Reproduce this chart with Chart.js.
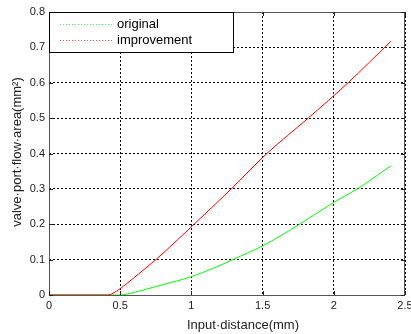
<!DOCTYPE html>
<html lang="en">
<head>
    <meta charset="UTF-8">
    <title>Valve port flow area</title>
    <script src="https://cdn.jsdelivr.net/npm/chart.js"></script>
    <style>
        body { margin: 0; padding: 0; background: #fff; }
        canvas { display: block; }
    </style>
</head>
<body>
    <canvas id="graphCanvas" width="411" height="334"></canvas>

    <script>
        // Values
        const seriesNames = ['original', 'improvement'];
        const xOriginal = [0, 0.5, 0.55, 0.65, 0.75, 0.9, 1, 1.15, 1.29, 1.5, 1.76, 2, 2.165, 2.4];
        const yOriginal = [0, 0, 0.003, 0.013, 0.024, 0.04, 0.052, 0.075, 0.1, 0.139, 0.2, 0.262, 0.3, 0.365];
        const xImproved = [0, 0.41, 0.45, 0.5, 0.6, 0.75, 0.9, 1, 1.28, 1.53, 1.82, 2.1, 2.4];
        const yImproved = [0, 0, 0.005, 0.018, 0.05, 0.1, 0.155, 0.193, 0.3, 0.4, 0.5, 0.6, 0.717];
        const xTicks = [0, 0.5, 1, 1.5, 2, 2.5];
        const yTicks = [0, 0.1, 0.2, 0.3, 0.4, 0.5, 0.6, 0.7, 0.8];
        const xTitle = 'Input\u00B7distance(mm)';
        const yTitle = 'valve\u00B7port\u00B7flow\u00B7area(mm\u00B2)';

        const toPoints = (xs, ys) => xs.map((x, i) => ({ x: x, y: ys[i] }));
        const fontFamily = '"Liberation Sans", Arial, sans-serif';

        // frame, inner ticks, axis titles and the boxed legend
        const decor = {
            id: 'decor',
            afterDatasetsDraw(chart) {
                const ctx = chart.ctx;
                const a = chart.chartArea;
                const sx = chart.scales.x, sy = chart.scales.y;
                ctx.save();
                ctx.strokeStyle = '#555';
                ctx.lineWidth = 1;
                ctx.strokeRect(a.left + 0.5, a.top + 0.5, a.right - a.left - 1, a.bottom - a.top);
                ctx.strokeStyle = '#222';
                ctx.beginPath();
                xTicks.forEach(v => {
                    const px = Math.round(sx.getPixelForValue(v)) + 0.5;
                    ctx.moveTo(px, a.bottom); ctx.lineTo(px, a.bottom - 4);
                    ctx.moveTo(px, a.top); ctx.lineTo(px, a.top + 4);
                });
                yTicks.forEach(v => {
                    const py = Math.round(sy.getPixelForValue(v)) + 0.5;
                    ctx.moveTo(a.left, py); ctx.lineTo(a.left + 4, py);
                    ctx.moveTo(a.right, py); ctx.lineTo(a.right - 4, py);
                });
                ctx.stroke();

                // axis titles
                ctx.fillStyle = '#222';
                ctx.font = '13px ' + fontFamily;
                ctx.textAlign = 'center';
                ctx.textBaseline = 'middle';
                ctx.fillText(xTitle, 243, 325);
                ctx.save();
                ctx.translate(17, 152);
                ctx.rotate(-Math.PI / 2);
                ctx.fillText(yTitle, 0, 0);
                ctx.restore();

                // legend box
                const lx = a.left, ly = a.top, lw = 184, lh = 40;
                ctx.fillStyle = '#fff';
                ctx.fillRect(lx, ly, lw, lh);
                ctx.strokeStyle = '#000';
                ctx.strokeRect(lx + 0.5, ly + 0.5, lw, lh);
                chart.data.datasets.forEach((ds, i) => {
                    const y = ly + 12.5 + i * 16;
                    ctx.strokeStyle = ds.borderColor;
                    ctx.globalAlpha = 0.7;
                    ctx.setLineDash([1, 2]);
                    ctx.beginPath();
                    ctx.moveTo(lx + 11, y); ctx.lineTo(lx + 64, y);
                    ctx.stroke();
                    ctx.setLineDash([]);
                    ctx.globalAlpha = 1;
                    ctx.fillStyle = '#000';
                    ctx.font = '13px ' + fontFamily;
                    ctx.textAlign = 'left';
                    ctx.fillText(ds.label, lx + 68, y);
                });
                ctx.restore();
            }
        };

        const ctx = document.getElementById('graphCanvas').getContext('2d');
        new Chart(ctx, {
            type: 'line',
            data: {
                datasets: [{
                    label: seriesNames[0],
                    data: toPoints(xOriginal, yOriginal),
                    borderColor: '#00ff00',
                    borderWidth: 1,
                    pointRadius: 0,
                    cubicInterpolationMode: 'monotone',
                    order: 2
                }, {
                    label: seriesNames[1],
                    data: toPoints(xImproved, yImproved),
                    borderColor: '#ff0000',
                    borderWidth: 1,
                    pointRadius: 0,
                    cubicInterpolationMode: 'monotone',
                    order: 1
                }]
            },
            options: {
                responsive: false,
                animation: false,
                devicePixelRatio: 1,
                layout: { padding: { top: 12, right: 6, left: 0, bottom: 0 } },
                plugins: { legend: { display: false }, tooltip: { enabled: false } },
                scales: {
                    x: {
                        type: 'linear',
                        min: 0,
                        max: 2.5,
                        afterBuildTicks: s => { s.ticks = xTicks.map(v => ({ value: v })); },
                        afterFit: s => { s.height = 39; s.paddingLeft = 0; s.paddingRight = 0; },
                        grid: { color: '#000', drawTicks: false },
                        border: { display: false, dash: [2, 2] },
                        ticks: {
                            color: '#222', padding: 4, maxRotation: 0,
                            font: { size: 11, family: fontFamily },
                            callback: v => String(v)
                        }
                    },
                    y: {
                        min: 0,
                        max: 0.8,
                        afterBuildTicks: s => { s.ticks = yTicks.map(v => ({ value: v })); },
                        afterFit: s => { s.width = 49; s.paddingTop = 0; s.paddingBottom = 0; },
                        grid: { color: '#000', drawTicks: false },
                        border: { display: false, dash: [2, 2] },
                        ticks: {
                            color: '#222', padding: 4,
                            font: { size: 11, family: fontFamily },
                            callback: v => String(v)
                        }
                    }
                }
            },
            plugins: [decor]
        });
    </script>
</body>
</html>
